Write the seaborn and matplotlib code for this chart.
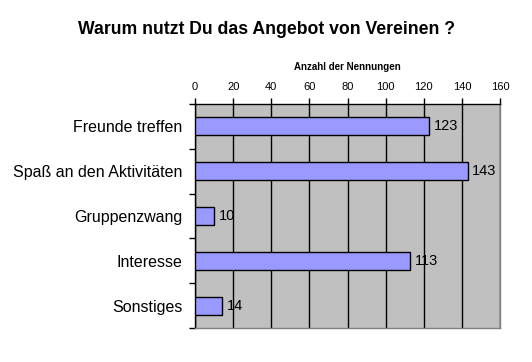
import matplotlib
matplotlib.use("Agg")
import matplotlib.pyplot as plt
import seaborn as sns
import pandas as pd
import numpy as np
from matplotlib.ticker import FixedLocator

categories = ["Freunde treffen", "Spaß an den Aktivitäten", "Gruppenzwang", "Interesse", "Sonstiges"]
values = [123, 143, 10, 113, 14]
xticks = [0, 20, 40, 60, 80, 100, 120, 140, 160]

df = pd.DataFrame({"Grund": categories, "Anzahl": values})

sns.set_theme(style="white")
plt.rcParams['font.family'] = ['Liberation Sans', 'DejaVu Sans']
plt.rcParams['text.color'] = 'black'
plt.rcParams['xtick.color'] = 'black'
plt.rcParams['ytick.color'] = 'black'
plt.rcParams['axes.labelcolor'] = 'black'

fig = plt.figure(figsize=(5.32, 3.62), dpi=100)
ax = fig.add_axes([195/532, 1-328/362, 305/532, 224/362])
ax.set_facecolor("#C0C0C0")

sns.barplot(data=df, x="Anzahl", y="Grund", orient="h", color="#9999FF",
            edgecolor="black", linewidth=1, width=0.4, saturation=1, ax=ax, zorder=3)

ax.set_xlim(0, 160)
ax.set_ylim(4.5, -0.5)
ax.set_xticks(xticks)
ax.xaxis.tick_top()
ax.xaxis.set_label_position("top")
ax.set_xlabel("Anzahl der Nennungen", fontsize=7, fontweight="bold", labelpad=8)
ax.set_ylabel("")
ax.tick_params(axis="x", labelsize=8, length=4, width=1, direction="out", color="black", pad=5, top=True, bottom=False)
ax.grid(axis="x", color="black", linewidth=1, zorder=1)
ax.set_axisbelow(True)

ax.tick_params(axis="y", which="major", length=0, labelsize=11.5, pad=9)
ax.yaxis.set_minor_locator(FixedLocator(np.arange(-0.5, 5.0, 1.0)))
ax.tick_params(axis="y", which="minor", length=4, width=1, color="black", left=True)

for s in ["left", "top"]:
    ax.spines[s].set_visible(True)
    ax.spines[s].set_color("black")
    ax.spines[s].set_linewidth(1)
for s in ["right", "bottom"]:
    ax.spines[s].set_visible(True)
    ax.spines[s].set_color("#808080")
    ax.spines[s].set_linewidth(1)

for i, v in enumerate(values):
    ax.text(v + 2.5, i, str(v), va="center", ha="left", fontsize=10.5, color="black", zorder=4)

fig.text(0.5, 1-29/362, "Warum nutzt Du das Angebot von Vereinen ?", ha="center", va="center",
         fontsize=12.7, fontweight="bold", color="black")

fig.savefig("out.png", dpi=100, facecolor="white")
